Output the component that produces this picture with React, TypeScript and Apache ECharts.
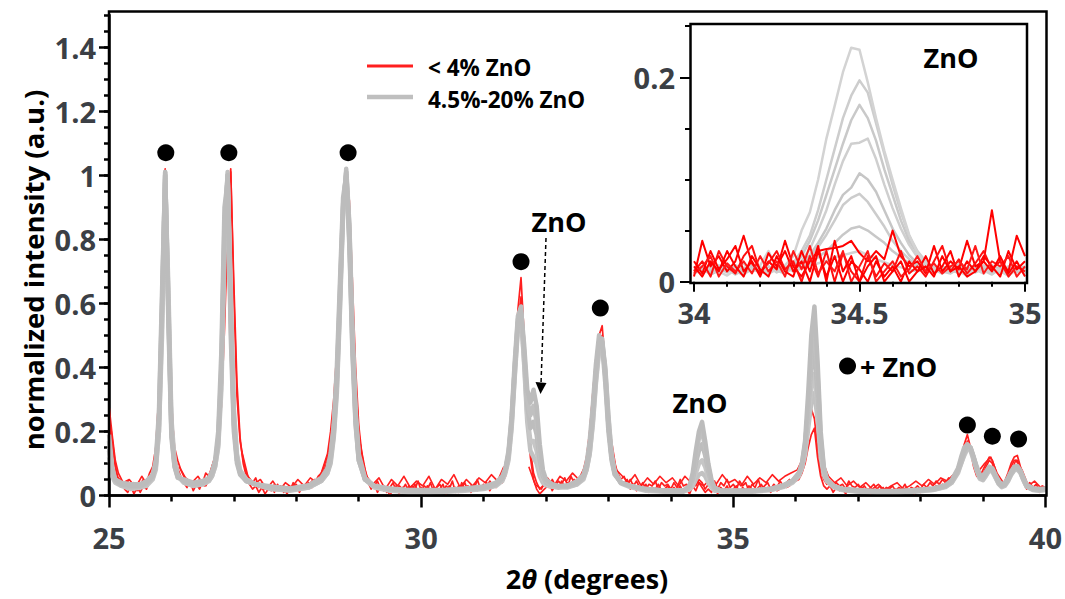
import React, { useEffect, useRef } from "react";
import * as echarts from "echarts";

const FONT = "'Open Sans', 'Noto Sans', sans-serif";
const LABEL_COLOR = "#3b3f45";

// ---------- main panel: red patterns (< 4% ZnO), sampled every 0.05 deg from 25 to 40 ----------
const redX: number[] = Array.from({ length: 301 }, (_, i) => Math.round((25 + i * 0.05) * 100) / 100);

const red1: number[] = [
  0.28, 0.19, 0.11, 0.07, 0.05, 0.03, 0.045, 0.02, 0.04, 0.015, 0.035, 0.05, 0.04, 0.07, 0.09, 0.15, 0.32, 0.72, 1.02, 0.62,
  0.27, 0.15, 0.11, 0.08, 0.06, 0.05, 0.035, 0.045, 0.03, 0.05, 0.04, 0.07, 0.06, 0.09, 0.12, 0.19, 0.33, 0.58, 0.86, 1.02,
  0.62, 0.31, 0.17, 0.11, 0.07, 0.05, 0.04, 0.055, 0.025, 0.04, 0.02, 0.03, 0.015, 0.035, 0.02, 0.03, 0.01, 0.025, 0.015, 0.04,
  0.02, 0.03, 0.02, 0.035, 0.03, 0.045, 0.04, 0.06, 0.07, 0.1, 0.13, 0.2, 0.3, 0.45, 0.66, 0.88, 1.02, 0.9, 0.62, 0.36,
  0.2, 0.12, 0.08, 0.05, 0.04, 0.03, 0.045, 0.02, 0.03, 0.01, 0.025, 0.04, 0.015, 0.03, 0.02, 0.035, 0.01, 0.03, 0.02, 0.045,
  0.015, 0.03, 0.02, 0.04, 0.01, 0.025, 0.035, 0.015, 0.03, 0.02, 0.045, 0.01, 0.03, 0.025, 0.04, 0.015, 0.03, 0.02, 0.05, 0.02,
  0.035, 0.025, 0.045, 0.03, 0.04, 0.035, 0.05, 0.07, 0.12, 0.22, 0.39, 0.58, 0.68, 0.5, 0.28, 0.14, 0.07, 0.04, 0.02, 0.03,
  0.04, 0.025, 0.05, 0.03, 0.045, 0.035, 0.055, 0.03, 0.06, 0.04, 0.05, 0.06, 0.08, 0.12, 0.2, 0.32, 0.43, 0.5, 0.53, 0.4,
  0.25, 0.15, 0.1, 0.07, 0.05, 0.06, 0.035, 0.05, 0.03, 0.045, 0.025, 0.04, 0.02, 0.035, 0.03, 0.045, 0.02, 0.04, 0.03, 0.035,
  0.02, 0.04, 0.025, 0.05, 0.03, 0.035, 0.02, 0.045, 0.03, 0.05, 0.04, 0.02, 0.035, 0.025, 0.045, 0.02, 0.04, 0.03, 0.05, 0.025,
  0.035, 0.02, 0.045, 0.03, 0.04, 0.015, 0.035, 0.025, 0.05, 0.02, 0.03, 0.04, 0.02, 0.035, 0.025, 0.045, 0.03, 0.04, 0.05, 0.045,
  0.06, 0.07, 0.09, 0.13, 0.2, 0.27, 0.24, 0.15, 0.08, 0.05, 0.035, 0.045, 0.025, 0.04, 0.03, 0.035, 0.02, 0.045, 0.03, 0.025,
  0.035, 0.02, 0.03, 0.015, 0.025, 0.035, 0.02, 0.03, 0.01, 0.025, 0.02, 0.03, 0.015, 0.025, 0.02, 0.035, 0.015, 0.025, 0.02, 0.03,
  0.02, 0.035, 0.025, 0.04, 0.03, 0.045, 0.035, 0.05, 0.04, 0.055, 0.05, 0.07, 0.08, 0.12, 0.16, 0.19, 0.15, 0.1, 0.07, 0.06,
  0.08, 0.1, 0.12, 0.11, 0.08, 0.05, 0.035, 0.045, 0.07, 0.1, 0.12, 0.125, 0.09, 0.05, 0.03, 0.04, 0.025, 0.035, 0.02, 0.03,
  0.025,
];

const red2: number[] = [
  0.24, 0.16, 0.09, 0.05, 0.035, 0.02, 0.01, 0.03, 0.005, 0.025, 0.01, 0.03, 0.02, 0.045, 0.07, 0.12, 0.27, 0.65, 1.0, 0.68,
  0.3, 0.13, 0.085, 0.06, 0.04, 0.025, 0.045, 0.015, 0.035, 0.02, 0.045, 0.03, 0.05, 0.07, 0.1, 0.16, 0.28, 0.52, 0.82, 1.01,
  0.66, 0.35, 0.18, 0.1, 0.06, 0.035, 0.02, 0.03, 0.01, 0.025, 0.005, 0.02, 0.03, 0.01, 0.035, 0.015, 0.03, 0.005, 0.02, 0.025,
  0.035, 0.01, 0.03, 0.02, 0.04, 0.025, 0.05, 0.04, 0.06, 0.08, 0.11, 0.17, 0.27, 0.42, 0.63, 0.86, 1.01, 0.92, 0.66, 0.4,
  0.22, 0.13, 0.07, 0.04, 0.02, 0.035, 0.01, 0.03, 0.015, 0.02, 0.0, 0.02, 0.03, 0.005, 0.025, 0.01, 0.03, 0.015, 0.035, 0.01,
  0.025, 0.005, 0.03, 0.015, 0.025, 0.01, 0.02, 0.035, 0.005, 0.03, 0.015, 0.025, 0.01, 0.04, 0.02, 0.03, 0.01, 0.035, 0.015, 0.03,
  0.02, 0.04, 0.015, 0.035, 0.025, 0.045, 0.04, 0.06, 0.1, 0.19, 0.35, 0.54, 0.62, 0.46, 0.25, 0.12, 0.05, 0.02, 0.005, 0.015,
  0.025, 0.04, 0.015, 0.035, 0.02, 0.045, 0.025, 0.04, 0.035, 0.05, 0.04, 0.05, 0.07, 0.1, 0.17, 0.28, 0.4, 0.48, 0.5, 0.42,
  0.27, 0.16, 0.09, 0.06, 0.04, 0.035, 0.05, 0.02, 0.035, 0.015, 0.03, 0.02, 0.035, 0.01, 0.025, 0.02, 0.035, 0.015, 0.02, 0.03,
  0.01, 0.025, 0.015, 0.03, 0.01, 0.02, 0.005, 0.03, 0.015, 0.04, 0.025, 0.01, 0.02, 0.01, 0.03, 0.005, 0.025, 0.015, 0.03, 0.01,
  0.02, 0.03, 0.01, 0.025, 0.015, 0.03, 0.02, 0.01, 0.025, 0.035, 0.015, 0.025, 0.01, 0.03, 0.015, 0.02, 0.035, 0.025, 0.03, 0.04,
  0.045, 0.05, 0.07, 0.1, 0.15, 0.19, 0.21, 0.12, 0.06, 0.03, 0.02, 0.03, 0.01, 0.025, 0.015, 0.02, 0.005, 0.025, 0.015, 0.02,
  0.01, 0.025, 0.015, 0.02, 0.005, 0.02, 0.01, 0.015, 0.025, 0.01, 0.015, 0.005, 0.02, 0.01, 0.015, 0.02, 0.01, 0.015, 0.005, 0.02,
  0.01, 0.02, 0.015, 0.025, 0.02, 0.03, 0.02, 0.035, 0.03, 0.045, 0.04, 0.06, 0.07, 0.1, 0.14, 0.17, 0.14, 0.09, 0.06, 0.05,
  0.065, 0.09, 0.11, 0.1, 0.07, 0.04, 0.025, 0.035, 0.06, 0.09, 0.11, 0.11, 0.08, 0.04, 0.02, 0.03, 0.015, 0.025, 0.01, 0.02,
  0.015,
];

// a third red pattern, sampled every 0.1 deg from 25.025 (gaps where it sits under the peaks)
const redX3: number[] = Array.from({ length: 150 }, (_, i) => Math.round((25.025 + i * 0.1) * 1000) / 1000);
const red3: (number | null)[] = [
  0.22, 0.06, 0.04, 0.05, 0.025, 0.06, 0.03, 0.08, null, null,
  null, 0.09, 0.055, 0.04, 0.06, 0.03, 0.075, 0.14, null, null,
  null, 0.14, 0.06, 0.035, 0.05, 0.02, 0.045, 0.015, 0.04, 0.025,
  0.05, 0.03, 0.055, 0.04, 0.08, 0.14, null, null, null, null,
  0.16, 0.06, 0.035, 0.055, 0.02, 0.05, 0.03, 0.06, 0.025, 0.045,
  0.03, 0.06, 0.02, 0.05, 0.035, 0.065, 0.025, 0.05, 0.03, 0.055,
  0.04, 0.065, 0.045, 0.09, null, null, null, 0.09, 0.035, 0.02,
  0.055, 0.03, 0.06, 0.045, 0.07, 0.05, 0.09, null, null, null,
  0.2, 0.08, 0.06, 0.04, 0.065, 0.03, 0.055, 0.035, 0.06, 0.04,
  0.055, 0.03, 0.06, 0.04, 0.045, 0.03, 0.05, 0.035, 0.065, 0.04,
  0.05, 0.03, 0.06, 0.035, 0.055, 0.04, 0.065, 0.045, 0.06, 0.07,
  0.08, 0.12, null, null, 0.11, 0.06, 0.04, 0.055, 0.03, 0.045,
  0.025, 0.04, 0.02, 0.035, 0.015, 0.03, 0.04, 0.02, 0.03, 0.045,
  0.03, 0.05, 0.035, 0.055, 0.045, 0.065, 0.09, null, null, 0.075,
  0.1, 0.12, 0.07, 0.04, 0.06, 0.11, 0.08, 0.03, 0.045, 0.025,
];

// ---------- main panel: gray patterns (4.5%-20% ZnO) ----------
const grayX: number[] = [
  25.0, 25.05, 25.1, 25.2, 25.35, 25.5, 25.6, 25.7, 25.75, 25.8, 25.85, 25.9, 25.95, 26.0, 26.05, 26.1,
  26.2, 26.35, 26.5, 26.6, 26.65, 26.7, 26.75, 26.8, 26.85, 26.9, 26.95, 27.0, 27.05, 27.1, 27.2, 27.35,
  27.6, 27.9, 28.2, 28.4, 28.5, 28.55, 28.6, 28.65, 28.7, 28.75, 28.8, 28.85, 28.9, 28.95, 29.0, 29.1, 29.25,
  29.5, 29.8, 30.1, 30.4, 30.7, 31.0, 31.2, 31.3,
  31.35, 31.4, 31.45, 31.5, 31.55, 31.6, 31.65, 31.7, 31.75, 31.8, 31.85, 31.9, 31.95, 32.0, 32.1, 32.2,
  32.35, 32.5, 32.6, 32.65, 32.7, 32.75, 32.8, 32.85, 32.9, 32.95, 33.0, 33.05, 33.1, 33.2, 33.35,
  33.6, 33.9, 34.2, 34.3, 34.35, 34.4, 34.45, 34.5, 34.55, 34.6, 34.65, 34.7, 34.8, 35.0,
  35.3, 35.6, 35.8, 35.95, 36.05, 36.1, 36.15, 36.2, 36.25, 36.3, 36.35, 36.4, 36.45, 36.5, 36.6, 36.75,
  37.0, 37.3, 37.6, 37.9, 38.2, 38.4, 38.5, 38.6,
  38.65, 38.7, 38.75, 38.8, 38.85, 38.9, 38.95, 39.0, 39.05, 39.1, 39.15, 39.2, 39.25, 39.3,
  39.35, 39.4, 39.45, 39.5, 39.55, 39.6, 39.65, 39.7, 39.8, 39.9, 40.0,
];

const gray1: number[] = [
  0.19, 0.09, 0.05, 0.035, 0.03, 0.03, 0.04, 0.06, 0.1, 0.24, 0.6, 1.01, 0.58, 0.2, 0.09, 0.06,
  0.045, 0.035, 0.04, 0.05, 0.07, 0.1, 0.18, 0.4, 0.85, 1.0, 0.55, 0.22, 0.11, 0.07, 0.045, 0.035,
  0.025, 0.02, 0.03, 0.05, 0.08, 0.12, 0.2, 0.36, 0.62, 0.9, 1.01, 0.82, 0.48, 0.24, 0.12, 0.05, 0.03,
  0.02, 0.015, 0.015, 0.015, 0.02, 0.025, 0.035, 0.055,
  0.08, 0.13, 0.24, 0.4, 0.54, 0.58, 0.47, 0.33, 0.29, 0.33, 0.28, 0.16, 0.08, 0.05, 0.035, 0.03,
  0.03, 0.04, 0.06, 0.09, 0.15, 0.26, 0.39, 0.48, 0.49, 0.38, 0.22, 0.12, 0.07, 0.04, 0.03,
  0.02, 0.015, 0.015, 0.03, 0.07, 0.14, 0.2, 0.23, 0.17, 0.1, 0.05, 0.025, 0.015, 0.015,
  0.015, 0.02, 0.03, 0.045, 0.07, 0.1, 0.17, 0.32, 0.5, 0.59, 0.42, 0.2, 0.09, 0.05, 0.03, 0.02,
  0.015, 0.012, 0.012, 0.015, 0.02, 0.03, 0.045, 0.08,
  0.11, 0.14, 0.155, 0.15, 0.12, 0.085, 0.06, 0.055, 0.07, 0.085, 0.08, 0.06, 0.04, 0.03,
  0.035, 0.05, 0.07, 0.085, 0.088, 0.075, 0.05, 0.03, 0.02, 0.018, 0.02,
];
const gray2: number[] = [
  0.15, 0.07, 0.045, 0.03, 0.025, 0.028, 0.035, 0.055, 0.09, 0.2, 0.55, 1.0, 0.62, 0.22, 0.1, 0.06,
  0.04, 0.03, 0.035, 0.045, 0.06, 0.09, 0.16, 0.36, 0.8, 1.01, 0.6, 0.25, 0.12, 0.075, 0.05, 0.035,
  0.02, 0.018, 0.025, 0.045, 0.07, 0.1, 0.18, 0.32, 0.58, 0.88, 1.02, 0.85, 0.52, 0.27, 0.13, 0.055, 0.03,
  0.018, 0.013, 0.012, 0.013, 0.018, 0.022, 0.032, 0.05,
  0.075, 0.12, 0.22, 0.38, 0.53, 0.57, 0.45, 0.3, 0.25, 0.28, 0.23, 0.13, 0.07, 0.045, 0.03, 0.028,
  0.028, 0.035, 0.055, 0.08, 0.13, 0.23, 0.36, 0.46, 0.48, 0.4, 0.25, 0.13, 0.075, 0.04, 0.028,
  0.018, 0.013, 0.013, 0.025, 0.06, 0.12, 0.18, 0.2, 0.15, 0.09, 0.045, 0.022, 0.013, 0.013,
  0.013, 0.018, 0.028, 0.042, 0.065, 0.09, 0.15, 0.28, 0.45, 0.52, 0.38, 0.18, 0.085, 0.048, 0.028, 0.018,
  0.013, 0.01, 0.01, 0.013, 0.018, 0.028, 0.04, 0.075,
  0.1, 0.13, 0.15, 0.145, 0.115, 0.08, 0.055, 0.05, 0.065, 0.08, 0.078, 0.058, 0.038, 0.028,
  0.032, 0.046, 0.066, 0.08, 0.085, 0.072, 0.048, 0.028, 0.018, 0.016, 0.018,
];
const gray3: number[] = [
  0.17, 0.08, 0.05, 0.04, 0.035, 0.035, 0.045, 0.065, 0.11, 0.26, 0.64, 1.0, 0.55, 0.18, 0.09, 0.055,
  0.05, 0.04, 0.045, 0.055, 0.075, 0.11, 0.2, 0.45, 0.9, 0.98, 0.5, 0.2, 0.1, 0.065, 0.045, 0.035,
  0.028, 0.022, 0.032, 0.055, 0.085, 0.13, 0.22, 0.4, 0.67, 0.93, 1.0, 0.78, 0.44, 0.22, 0.11, 0.05, 0.03,
  0.022, 0.017, 0.017, 0.018, 0.022, 0.028, 0.04, 0.06,
  0.085, 0.14, 0.25, 0.42, 0.56, 0.59, 0.44, 0.28, 0.21, 0.23, 0.19, 0.11, 0.06, 0.04, 0.03, 0.028,
  0.032, 0.045, 0.065, 0.1, 0.17, 0.28, 0.41, 0.5, 0.47, 0.35, 0.2, 0.11, 0.065, 0.04, 0.03,
  0.02, 0.016, 0.016, 0.025, 0.05, 0.1, 0.14, 0.16, 0.125, 0.075, 0.04, 0.02, 0.015, 0.015,
  0.016, 0.021, 0.032, 0.047, 0.07, 0.1, 0.16, 0.27, 0.4, 0.45, 0.32, 0.16, 0.08, 0.05, 0.03, 0.02,
  0.017, 0.014, 0.014, 0.017, 0.022, 0.032, 0.048, 0.085,
  0.12, 0.15, 0.16, 0.15, 0.12, 0.09, 0.065, 0.06, 0.075, 0.09, 0.085, 0.065, 0.045, 0.035,
  0.04, 0.055, 0.075, 0.09, 0.092, 0.078, 0.055, 0.034, 0.023, 0.02, 0.022,
];
const gray4: number[] = [
  0.12, 0.06, 0.04, 0.03, 0.02, 0.025, 0.03, 0.05, 0.08, 0.2, 0.5, 0.98, 0.66, 0.24, 0.11, 0.065,
  0.04, 0.03, 0.035, 0.045, 0.06, 0.09, 0.15, 0.33, 0.75, 1.0, 0.65, 0.27, 0.13, 0.08, 0.05, 0.035,
  0.02, 0.015, 0.025, 0.045, 0.07, 0.11, 0.19, 0.34, 0.6, 0.89, 1.01, 0.84, 0.5, 0.25, 0.12, 0.05, 0.025,
  0.015, 0.01, 0.01, 0.012, 0.015, 0.02, 0.03, 0.045,
  0.07, 0.11, 0.21, 0.37, 0.52, 0.56, 0.42, 0.25, 0.17, 0.17, 0.14, 0.08, 0.05, 0.035, 0.028, 0.025,
  0.025, 0.035, 0.05, 0.08, 0.13, 0.22, 0.35, 0.45, 0.47, 0.39, 0.24, 0.13, 0.07, 0.038, 0.026,
  0.015, 0.012, 0.012, 0.02, 0.04, 0.07, 0.1, 0.11, 0.09, 0.055, 0.03, 0.018, 0.012, 0.012,
  0.012, 0.017, 0.026, 0.04, 0.06, 0.085, 0.13, 0.23, 0.34, 0.38, 0.28, 0.14, 0.07, 0.045, 0.027, 0.017,
  0.012, 0.01, 0.01, 0.012, 0.017, 0.026, 0.04, 0.07,
  0.1, 0.125, 0.145, 0.14, 0.11, 0.078, 0.052, 0.048, 0.062, 0.078, 0.075, 0.055, 0.036, 0.026,
  0.03, 0.044, 0.064, 0.078, 0.082, 0.07, 0.046, 0.027, 0.017, 0.015, 0.017,
];
const gray5: number[] = [
  0.14, 0.07, 0.045, 0.035, 0.03, 0.03, 0.04, 0.06, 0.1, 0.22, 0.58, 1.01, 0.6, 0.2, 0.1, 0.06,
  0.045, 0.035, 0.04, 0.05, 0.065, 0.1, 0.17, 0.38, 0.82, 1.0, 0.58, 0.23, 0.11, 0.07, 0.045, 0.035,
  0.025, 0.02, 0.03, 0.05, 0.08, 0.12, 0.21, 0.37, 0.64, 0.91, 1.0, 0.8, 0.46, 0.23, 0.11, 0.05, 0.03,
  0.02, 0.016, 0.015, 0.016, 0.02, 0.025, 0.036, 0.055,
  0.08, 0.13, 0.23, 0.4, 0.55, 0.57, 0.41, 0.23, 0.14, 0.12, 0.1, 0.06, 0.04, 0.032, 0.028, 0.025,
  0.03, 0.04, 0.06, 0.09, 0.15, 0.25, 0.38, 0.47, 0.48, 0.37, 0.22, 0.12, 0.07, 0.04, 0.03,
  0.02, 0.015, 0.015, 0.02, 0.03, 0.05, 0.065, 0.07, 0.06, 0.04, 0.025, 0.015, 0.015, 0.015,
  0.015, 0.02, 0.03, 0.045, 0.065, 0.09, 0.13, 0.21, 0.29, 0.32, 0.24, 0.12, 0.065, 0.045, 0.03, 0.02,
  0.015, 0.012, 0.012, 0.015, 0.02, 0.03, 0.045, 0.08,
  0.11, 0.14, 0.155, 0.148, 0.118, 0.083, 0.058, 0.053, 0.068, 0.083, 0.08, 0.06, 0.04, 0.03,
  0.035, 0.05, 0.07, 0.085, 0.088, 0.075, 0.05, 0.03, 0.02, 0.018, 0.02,
];

// ---------- reflection markers (filled circles) ----------
const markerX: number[] = [25.91, 26.92, 28.83, 31.6, 32.87, 36.83, 38.75, 39.15, 39.57];
const markerY: number[] = [1.07, 1.07, 1.07, 0.73, 0.585, 0.404, 0.22, 0.185, 0.176];

// ---------- inset (34-35 deg), sampled every 0.025 deg ----------
const insetX: number[] = Array.from({ length: 41 }, (_, i) => Math.round((34 + i * 0.025) * 1000) / 1000);

const insetGray1: number[] = [
  0.012, 0.008, 0.015, 0.01, 0.006, 0.012, 0.018, 0.01, 0.014, 0.008,
  0.012, 0.016, 0.025, 0.05, 0.068, 0.1, 0.14, 0.172, 0.205, 0.229,
  0.227, 0.195, 0.16, 0.128, 0.1, 0.072, 0.046, 0.028, 0.018, 0.012,
  0.008, 0.014, 0.01, 0.006, 0.012, 0.008, 0.015, 0.01, 0.006, 0.012,
  0.009,
];
const insetGray2: number[] = [
  0.01, 0.014, 0.008, 0.012, 0.016, 0.01, 0.007, 0.013, 0.01, 0.015,
  0.009, 0.013, 0.018, 0.03, 0.045, 0.07, 0.1, 0.13, 0.16, 0.182,
  0.197, 0.185, 0.155, 0.125, 0.095, 0.068, 0.045, 0.03, 0.02, 0.014,
  0.01, 0.008, 0.013, 0.009, 0.015, 0.011, 0.007, 0.013, 0.01, 0.014,
  0.008,
];
const insetGray3: number[] = [
  0.008, 0.012, 0.016, 0.009, 0.013, 0.007, 0.012, 0.015, 0.008, 0.011,
  0.014, 0.01, 0.015, 0.025, 0.04, 0.06, 0.085, 0.11, 0.135, 0.158,
  0.173, 0.16, 0.138, 0.11, 0.085, 0.06, 0.04, 0.028, 0.02, 0.012,
  0.009, 0.014, 0.008, 0.012, 0.016, 0.01, 0.013, 0.008, 0.012, 0.01,
  0.013,
];
const insetGray4: number[] = [
  0.013, 0.009, 0.012, 0.016, 0.01, 0.014, 0.008, 0.012, 0.01, 0.015,
  0.011, 0.008, 0.014, 0.02, 0.032, 0.05, 0.07, 0.095, 0.118, 0.135,
  0.136, 0.14, 0.12, 0.095, 0.072, 0.052, 0.036, 0.024, 0.016, 0.011,
  0.014, 0.009, 0.012, 0.008, 0.013, 0.016, 0.01, 0.012, 0.015, 0.009,
  0.011,
];
const insetGray5: number[] = [
  0.01, 0.013, 0.007, 0.011, 0.014, 0.009, 0.012, 0.016, 0.011, 0.008,
  0.013, 0.015, 0.012, 0.018, 0.026, 0.038, 0.052, 0.07, 0.085, 0.092,
  0.106, 0.1, 0.088, 0.07, 0.052, 0.038, 0.026, 0.018, 0.013, 0.01,
  0.015, 0.011, 0.009, 0.014, 0.01, 0.012, 0.016, 0.011, 0.009, 0.013,
  0.012,
];
const insetGray6: number[] = [
  0.012, 0.008, 0.013, 0.01, 0.015, 0.011, 0.009, 0.014, 0.012, 0.01,
  0.016, 0.012, 0.014, 0.018, 0.024, 0.034, 0.046, 0.06, 0.075, 0.082,
  0.086, 0.078, 0.066, 0.054, 0.04, 0.03, 0.022, 0.016, 0.012, 0.015,
  0.01, 0.013, 0.017, 0.012, 0.009, 0.014, 0.011, 0.015, 0.012, 0.01,
  0.014,
];
const insetGray7: number[] = [
  0.011, 0.015, 0.01, 0.013, 0.009, 0.016, 0.012, 0.01, 0.014, 0.011,
  0.013, 0.01, 0.015, 0.014, 0.018, 0.024, 0.03, 0.038, 0.046, 0.052,
  0.054, 0.05, 0.044, 0.038, 0.03, 0.024, 0.018, 0.015, 0.012, 0.01,
  0.014, 0.011, 0.016, 0.01, 0.013, 0.015, 0.011, 0.014, 0.01, 0.012,
  0.015,
];
const insetGray8: number[] = [
  0.009, 0.012, 0.015, 0.01, 0.013, 0.008, 0.014, 0.011, 0.016, 0.03,
  0.012, 0.014, 0.01, 0.013, 0.016, 0.018, 0.02, 0.024, 0.026, 0.028,
  0.03, 0.026, 0.022, 0.019, 0.016, 0.014, 0.012, 0.01, 0.014, 0.011,
  0.009, 0.013, 0.015, 0.01, 0.012, 0.014, 0.009, 0.013, 0.011, 0.015,
  0.01,
];
const insetRed1: number[] = [
  0.005, 0.04, 0.015, 0.025, 0.01, 0.02, 0.045, 0.018, 0.008, 0.02,
  0.012, 0.04, 0.015, 0.005, 0.02, 0.03, 0.032, 0.033, 0.035, 0.04,
  0.028, 0.02, 0.03, 0.022, 0.05, 0.025, 0.015, 0.02, 0.008, 0.035,
  0.01, 0.02, 0.012, 0.04, 0.015, 0.02, 0.07, 0.02, 0.01, 0.045,
  0.025,
];
const insetRed2: number[] = [
  0.01, 0.02, 0.005, 0.03, 0.015, 0.008, 0.025, 0.035, 0.01, 0.018,
  0.03, 0.012, 0.02, 0.0, 0.025, 0.005, 0.03, 0.0, 0.028, 0.01,
  0.0, 0.025, 0.005, 0.018, 0.01, 0.03, 0.008, 0.015, 0.005, 0.02,
  0.035, 0.01, 0.022, 0.008, 0.018, 0.03, 0.012, 0.02, 0.005, 0.015,
  0.01,
];
const insetRed3: number[] = [
  0.02, 0.008, 0.03, 0.012, 0.022, 0.035, 0.01, 0.02, 0.005, 0.028,
  0.015, 0.03, 0.01, 0.02, 0.0, 0.03, 0.005, 0.025, 0.0, 0.02,
  0.012, 0.0, 0.02, 0.005, 0.015, 0.0, 0.02, 0.01, 0.025, 0.008,
  0.015, 0.03, 0.005, 0.02, 0.01, 0.025, 0.015, 0.005, 0.03, 0.012,
  0.02,
];
const insetRed4: number[] = [
  0.008, 0.015, 0.025, 0.005, 0.018, 0.01, 0.02, 0.008, 0.025, 0.01,
  0.02, 0.005, 0.03, 0.012, 0.035, 0.008, 0.02, 0.01, 0.03, 0.0,
  0.015, 0.03, 0.0, 0.01, 0.02, 0.005, 0.012, 0.025, 0.01, 0.018,
  0.008, 0.015, 0.02, 0.012, 0.035, 0.008, 0.02, 0.015, 0.025, 0.005,
  0.015,
];
const insetRed5: number[] = [
  0.015, 0.005, 0.02, 0.01, 0.03, 0.015, 0.005, 0.025, 0.012, 0.005,
  0.025, 0.01, 0.005, 0.03, 0.01, 0.035, 0.0, 0.04, 0.01, 0.025,
  0.0, 0.015, 0.025, 0.0, 0.01, 0.02, 0.0, 0.01, 0.015, 0.005,
  0.025, 0.01, 0.015, 0.005, 0.01, 0.02, 0.01, 0.025, 0.008, 0.02,
  0.005,
];

const mainYMajor = [0, 0.2, 0.4, 0.6, 0.8, 1, 1.2, 1.4];
const insetYMajor = [0, 0.2];

const RED = "#ff1f1f";
const GRAY = "#bfbfbf";

function pairs(xs: number[], ys: (number | null)[]) {
  return ys.map((y, i) => [xs[i], y]);
}

function lineSeries(name: string, xs: number[], ys: (number | null)[], color: string, width: number, inset: boolean, z: number) {
  return {
    type: "line",
    name,
    xAxisIndex: inset ? 1 : 0,
    yAxisIndex: inset ? 2 : 0,
    data: pairs(xs, ys),
    showSymbol: false,
    symbol: "none",
    connectNulls: false,
    lineStyle: { color, width, join: "round" },
    itemStyle: { color },
    emphasis: { disabled: true },
    silent: true,
    clip: true,
    z,
  };
}

function buildOption() {
  const tickStyle = { color: "#000", width: 2.5 };
  const labelStyle = { fontFamily: FONT, fontWeight: "bold", fontSize: 29, color: LABEL_COLOR };
  const textStyle = (size: number) => ({ fontFamily: FONT, fontWeight: "bold", fontSize: size, fill: "#000" });

  const series: any[] = [
    lineSeries("< 4% ZnO", redX3, red3, RED, 1.6, false, 2),
    lineSeries("< 4% ZnO", redX, red2, RED, 1.7, false, 2),
    lineSeries("< 4% ZnO", redX, red1, RED, 1.7, false, 2),
    lineSeries("4.5%-20% ZnO", grayX, gray5, "#c2c2c2", 4.5, false, 3),
    lineSeries("4.5%-20% ZnO", grayX, gray4, "#c6c6c6", 4.5, false, 3),
    lineSeries("4.5%-20% ZnO", grayX, gray3, "#bdbdbd", 4.5, false, 3),
    lineSeries("4.5%-20% ZnO", grayX, gray2, "#c0c0c0", 4.5, false, 3),
    lineSeries("4.5%-20% ZnO", grayX, gray1, "#bcbcbc", 4.5, false, 3),
    {
      type: "scatter",
      xAxisIndex: 0,
      yAxisIndex: 0,
      data: pairs(markerX, markerY),
      symbol: "circle",
      symbolSize: 17,
      itemStyle: { color: "#000", opacity: 1 },
      silent: true,
      z: 6,
    },
    lineSeries("4.5%-20% ZnO", insetX, insetGray8, "#d2d2d2", 2.5, true, 3),
    lineSeries("4.5%-20% ZnO", insetX, insetGray7, "#c8c8c8", 2.5, true, 3),
    lineSeries("4.5%-20% ZnO", insetX, insetGray6, "#cccccc", 2.5, true, 3),
    lineSeries("4.5%-20% ZnO", insetX, insetGray5, "#c6c6c6", 2.5, true, 3),
    lineSeries("4.5%-20% ZnO", insetX, insetGray4, "#cfcfcf", 2.5, true, 3),
    lineSeries("4.5%-20% ZnO", insetX, insetGray3, "#c9c9c9", 2.5, true, 3),
    lineSeries("4.5%-20% ZnO", insetX, insetGray2, "#cdcdcd", 2.5, true, 3),
    lineSeries("4.5%-20% ZnO", insetX, insetGray1, "#d3d3d3", 2.5, true, 3),
    lineSeries("< 4% ZnO", insetX, insetRed1, "#ff0000", 2, true, 4),
    lineSeries("< 4% ZnO", insetX, insetRed2, "#ff1010", 2, true, 4),
    lineSeries("< 4% ZnO", insetX, insetRed3, "#ff0000", 2, true, 4),
    lineSeries("< 4% ZnO", insetX, insetRed4, "#ff1a1a", 2, true, 4),
    lineSeries("< 4% ZnO", insetX, insetRed5, "#ff0000", 2, true, 4),
  ];

  return {
    animation: false,
    backgroundColor: "#ffffff",
    grid: [
      { left: 109, right: 19, top: 15, bottom: 103.5, containLabel: false },
      { left: 694, right: 40, top: 26.2, bottom: 317.3, containLabel: false },
    ],
    xAxis: [
      {
        type: "value",
        gridIndex: 0,
        min: 25,
        max: 40,
        interval: 5,
        axisLine: { show: true, lineStyle: tickStyle },
        axisTick: { show: true, length: 12, lineStyle: tickStyle },
        minorTick: { show: true, splitNumber: 5, length: 6, lineStyle: tickStyle },
        axisLabel: { ...labelStyle, margin: 27 },
        splitLine: { show: false },
        minorSplitLine: { show: false },
      },
      {
        type: "value",
        gridIndex: 1,
        min: 34,
        max: 35,
        interval: 0.5,
        offset: 1,
        axisLine: { show: false },
        axisTick: { show: true, length: 10, lineStyle: { color: "#000", width: 2 } },
        minorTick: { show: true, splitNumber: 5, length: 5, lineStyle: { color: "#000", width: 2 } },
        axisLabel: { ...labelStyle, margin: 15 },
        splitLine: { show: false },
        minorSplitLine: { show: false },
      },
    ],
    yAxis: [
      {
        type: "value",
        gridIndex: 0,
        position: "left",
        min: 0,
        max: 1.5,
        interval: 0.2,
        axisLine: { show: true, lineStyle: tickStyle },
        axisTick: { show: true, length: 10, lineStyle: tickStyle, customValues: mainYMajor },
        axisLabel: {
          ...labelStyle,
          margin: 13,
          customValues: mainYMajor,
          formatter: (v: number) => String(Math.round(v * 10) / 10),
        },
        splitLine: { show: false },
      },
      {
        type: "value",
        gridIndex: 0,
        position: "left",
        min: 0,
        max: 1.5,
        interval: 0.05,
        axisLine: { show: false },
        axisTick: { show: true, length: 5, lineStyle: tickStyle },
        axisLabel: { show: false },
        splitLine: { show: false },
      },
      {
        type: "value",
        gridIndex: 1,
        position: "left",
        min: 0,
        max: 0.25,
        interval: 0.2,
        offset: 4,
        axisLine: { show: false },
        axisTick: { show: true, length: 10, lineStyle: { color: "#000", width: 2 }, customValues: insetYMajor },
        axisLabel: {
          ...labelStyle,
          margin: 15,
          customValues: insetYMajor,
          formatter: (v: number) => String(Math.round(v * 10) / 10),
        },
        splitLine: { show: false },
      },
      {
        type: "value",
        gridIndex: 1,
        position: "left",
        min: 0,
        max: 0.25,
        interval: 0.05,
        offset: 4,
        axisLine: { show: false },
        axisTick: { show: true, length: 5, lineStyle: { color: "#000", width: 2 } },
        axisLabel: { show: false },
        splitLine: { show: false },
      },
    ],
    series,
    graphic: [
      {
        type: "rect",
        silent: true,
        z: 20,
        shape: { x: 109, y: 11.5, width: 937.5, height: 484 },
        style: { fill: "none", stroke: "#000", lineWidth: 2.5 },
      },
      {
        type: "rect",
        silent: true,
        z: 20,
        shape: { x: 690.5, y: 24, width: 336.5, height: 259 },
        style: { fill: "none", stroke: "#000", lineWidth: 2.5 },
      },
      // legend
      { type: "line", silent: true, z: 20, shape: { x1: 367, y1: 66, x2: 413, y2: 66 }, style: { stroke: RED, lineWidth: 3 } },
      { type: "line", silent: true, z: 20, shape: { x1: 367, y1: 97, x2: 413, y2: 97 }, style: { stroke: GRAY, lineWidth: 4.5 } },
      { type: "text", silent: true, z: 20, x: 428, y: 67, style: { ...textStyle(22.5), text: "< 4% ZnO", align: "left", verticalAlign: "middle" } },
      { type: "text", silent: true, z: 20, x: 428, y: 99, style: { ...textStyle(22.5), text: "4.5%-20% ZnO", align: "left", verticalAlign: "middle" } },
      // annotations
      { type: "text", silent: true, z: 20, x: 559, y: 221, style: { ...textStyle(27), text: "ZnO", align: "center", verticalAlign: "middle" } },
      {
        type: "line",
        silent: true,
        z: 20,
        shape: { x1: 546, y1: 238, x2: 541, y2: 384 },
        style: { stroke: "#000", lineWidth: 1.5, lineDash: [4, 3] },
      },
      {
        type: "polygon",
        silent: true,
        z: 20,
        shape: { points: [[535.5, 382], [546.5, 383], [540.5, 394]] },
        style: { fill: "#000" },
      },
      { type: "text", silent: true, z: 20, x: 700, y: 402, style: { ...textStyle(27), text: "ZnO", align: "center", verticalAlign: "middle" } },
      { type: "text", silent: true, z: 20, x: 860, y: 366, style: { ...textStyle(27), text: "+ ZnO", align: "left", verticalAlign: "middle" } },
      { type: "text", silent: true, z: 20, x: 951, y: 57, style: { ...textStyle(27), text: "ZnO", align: "center", verticalAlign: "middle" } },
      // axis titles
      {
        type: "text",
        silent: true,
        z: 20,
        x: 33,
        y: 270,
        rotation: Math.PI / 2,
        style: { ...textStyle(27.5), text: "normalized intensity (a.u.)", align: "center", verticalAlign: "middle" },
      },
      {
        type: "text",
        silent: true,
        z: 20,
        x: 587,
        y: 578,
        style: {
          text: "{a|2}{b|θ}{a| (degrees)}",
          align: "center",
          verticalAlign: "middle",
          rich: {
            a: { fontFamily: FONT, fontWeight: "bold", fontSize: 27, fill: "#000", color: "#000" },
            b: { fontFamily: FONT, fontWeight: "bold", fontStyle: "italic", fontSize: 27, fill: "#000", color: "#000" },
          },
        },
      },
    ],
  };
}

export default function App() {
  const ref = useRef<HTMLDivElement>(null);
  useEffect(() => {
    if (!ref.current) return;
    const chart = echarts.init(ref.current, null, { renderer: "svg" });
    chart.setOption(buildOption() as any);
    return () => chart.dispose();
  }, []);
  return (
    <div
      ref={ref}
      style={{ position: "fixed", left: 0, top: 0, width: 1065, height: 599, background: "#fff" }}
    />
  );
}
